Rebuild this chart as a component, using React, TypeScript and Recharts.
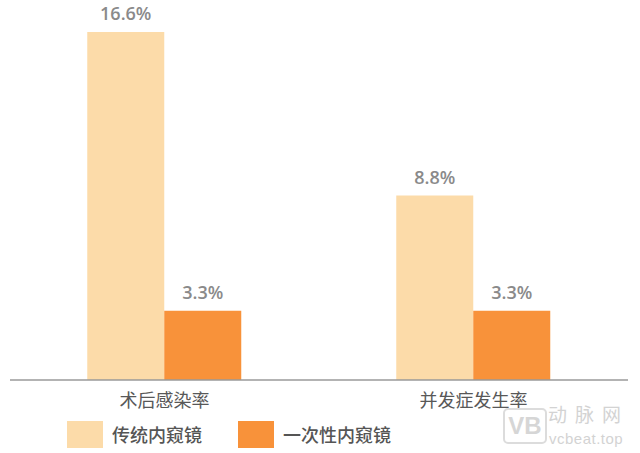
import React from 'react';
import { BarChart, Bar, XAxis, YAxis, LabelList } from 'recharts';

const categories = ['术后感染率', '并发症发生率'];
const traditional = [16.6, 8.8];
const disposable = [3.3, 3.3];
const seriesNames = ['传统内窥镜', '一次性内窥镜'];
const colors = ['#FCDBA9', '#F8923A'];

const data = categories.map((c, i) => ({ name: c, a: traditional[i], b: disposable[i] }));

const FONT = '"Noto Sans CJK SC", "Noto Sans", sans-serif';
const NUMFONT = '"Open Sans", "Noto Sans", sans-serif';
const fmt = (v: any) => `${v}%`;

export default function App() {
  return (
    <div style={{ position: 'absolute', left: 0, top: 0, width: 640, height: 453, background: '#fff', fontFamily: FONT }}>
      <BarChart
        width={640}
        height={453}
        data={data}
        margin={{ top: 32, right: 12, left: 10, bottom: 43 }}
        barCategoryGap="25%"
        barGap={0}
      >
        <XAxis
          dataKey="name"
          axisLine={{ stroke: '#9a9a9a', strokeWidth: 1.5 }}
          tickLine={false}
          height={30}
          tickMargin={8}
          tick={{ fill: '#585858', fontSize: 18, fontFamily: FONT }}
        />
        <YAxis hide domain={[0, 16.6]} />
        <Bar dataKey="a" fill={colors[0]} isAnimationActive={false}>
          <LabelList dataKey="a" position="top" offset={12} formatter={fmt} fill="#8a8a8a" fontSize={18} fontWeight={600} fontFamily={NUMFONT} />
        </Bar>
        <Bar dataKey="b" fill={colors[1]} isAnimationActive={false}>
          <LabelList dataKey="b" position="top" offset={12} formatter={fmt} fill="#8a8a8a" fontSize={18} fontWeight={600} fontFamily={NUMFONT} />
        </Bar>
      </BarChart>
      <div style={{ position: 'absolute', left: 67, top: 421, display: 'flex', alignItems: 'center' }}>
        {seriesNames.map((n, i) => (
          <div key={n} style={{ display: 'flex', alignItems: 'center', marginRight: i === 0 ? 36 : 0 }}>
            <div style={{ width: 36, height: 27, background: colors[i] }} />
            <span style={{ marginLeft: 9, fontSize: 18, lineHeight: '27px', color: '#555', fontWeight: 500 }}>{n}</span>
          </div>
        ))}
      </div>
      <div style={{ position: 'absolute', left: 503, top: 408, width: 40, height: 32, border: '2px solid #dcdcdc', borderRadius: 5, color: '#d6d6d6', fontSize: 24, fontWeight: 700, textAlign: 'center', lineHeight: '32px', fontFamily: '"Liberation Sans", sans-serif' }}>VB</div>
      <div style={{ position: 'absolute', left: 548, top: 403, fontSize: 19, lineHeight: '22px', color: '#d3d3d3', letterSpacing: 8 }}>动脉网</div>
      <div style={{ position: 'absolute', left: 549, top: 431, fontSize: 15, lineHeight: '16px', color: '#d3d3d3', fontFamily: '"Liberation Sans", sans-serif', letterSpacing: 0.5 }}>vcbeat.top</div>
    </div>
  );
}
